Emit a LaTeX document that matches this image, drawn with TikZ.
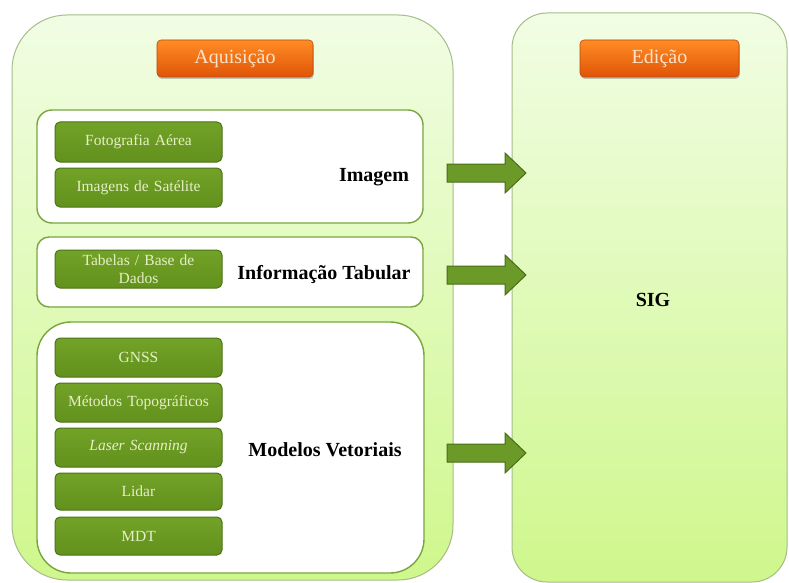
\documentclass[tikz,border=0pt]{standalone}
\usepackage{fontspec}
\setmainfont{Liberation Serif}
\usetikzlibrary{shadows,calc}

\definecolor{panelborder}{HTML}{A6BC88}
\definecolor{paneltop}{HTML}{F1FDE4}
\definecolor{panelbottom}{HTML}{CFF78C}
\definecolor{groupborder}{HTML}{78A63E}
\definecolor{itemtop}{HTML}{72A227}
\definecolor{itembottom}{HTML}{62911D}
\definecolor{itemdark}{HTML}{4C7316}
\definecolor{itemtext}{HTML}{E6EFC6}
\definecolor{headtop}{HTML}{FF8C24}
\definecolor{headbottom}{HTML}{DF5508}
\definecolor{headborder}{HTML}{B8480A}
\definecolor{headtext}{HTML}{FDE3C8}
\definecolor{arrowfill}{HTML}{6B9A28}
\definecolor{arrowborder}{HTML}{4A6D18}

\tikzset{
  panel/.style={draw=panelborder, line width=1pt, top color=paneltop, bottom color=panelbottom},
  group/.style={draw=groupborder, line width=1.4pt, fill=white},
  itembox/.style={draw=itemdark, line width=1pt, top color=itemtop, bottom color=itembottom,
    rounded corners=5pt, minimum width=167pt, text width=160pt, align=center, inner sep=0pt,
    text=itemtext, font=\fontsize{15.5pt}{18pt}\selectfont},
  header/.style={draw=headborder, line width=0.6pt, top color=headtop, bottom color=headbottom,
    rounded corners=4pt, drop shadow={shadow xshift=0.8pt, shadow yshift=-2pt, opacity=0.45},
    text=headtext, font=\fontsize{20pt}{22pt}\selectfont},
  grouplabel/.style={font=\bfseries\fontsize{20pt}{22pt}\selectfont, text=black},
  blockarrow/.style={draw=arrowborder, line width=1pt, fill=arrowfill, line join=miter}
}

\begin{document}
\begin{tikzpicture}[x=1pt, y=-1pt]
  \useasboundingbox (0,0) rectangle (789,583);

  % the two large panels
  \path[panel, rounded corners=55pt] (12,15) rectangle (453,580);
  \path[panel, rounded corners=35pt] (512,13) rectangle (787,582);

  % panel headers
  \node[header, minimum width=156pt, minimum height=37pt] (acq) at (235,58.5) {Aquisição};
  \node[header, minimum width=159pt, minimum height=37pt] (edit) at (659.5,58.5) {Edição};

  % group frames
  \draw[group, rounded corners=15pt] (37,110) rectangle (423,223);
  \draw[group, rounded corners=12pt] (37,237) rectangle (423,307);
  \draw[group, rounded corners=34pt] (37,322) rectangle (424,573);

  % Imagem
  \node[itembox, minimum height=40pt] (foto) at (138.5,142) {Fotografia Aérea};
  \node[itembox, minimum height=39pt] (sat) at (138.5,187.5) {Imagens de Satélite};
  \node[grouplabel] (img) at (374,177) {Imagem};

  % Informação Tabular
  \node[itembox, minimum height=38pt] (tab) at (138.5,269) {Tabelas / Base de\\Dados};
  \node[grouplabel] (info) at (324,275) {Informação Tabular};

  % Modelos Vetoriais
  \node[itembox, minimum height=39pt] (gnss) at (138.5,357.5) {GNSS};
  \node[itembox, minimum height=39pt] (topo) at (138.5,402.5) {Métodos Topográficos};
  \node[itembox, minimum height=39pt] (laser) at (138.5,447.5) {\itshape Laser Scanning};
  \node[itembox, minimum height=37pt] (lidar) at (138.5,491.5) {Lidar};
  \node[itembox, minimum height=38pt] (mdt) at (138.5,536) {MDT};
  \node[grouplabel] (vet) at (325,450) {Modelos Vetoriais};

  % SIG
  \node[grouplabel] (sig) at (653,300) {SIG};

  % block arrows from the acquisition panel into the editing panel
  \coordinate (a1) at (447,173);
  \coordinate (a2) at (447,275);
  \coordinate (a3) at (447,453);
  \foreach \a in {a1,a2,a3}{
    \draw[blockarrow] ($(\a)+(0,-9)$) -- ++(58,0) -- ++(0,-11) -- ($(\a)+(79,0)$)
      -- ($(\a)+(58,20)$) -- ++(0,-11) -- ($(\a)+(0,9)$) -- cycle;
  }
\end{tikzpicture}
\end{document}
